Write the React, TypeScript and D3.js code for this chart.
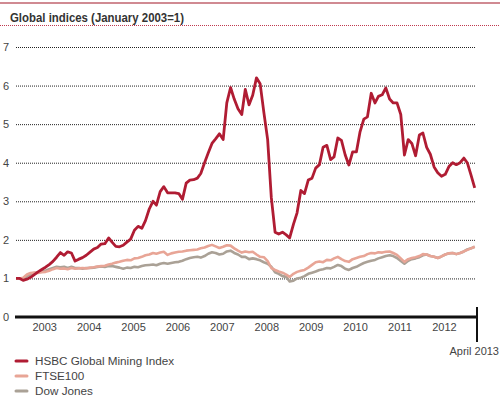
import * as d3 from "d3";
import React from "react";

// monthly values, Jan 2003 onwards (index 0 = Jan 2003)
const hsbcMining = [
  1.0, 1.0, 0.95, 0.98, 1.03, 1.1, 1.17, 1.23, 1.29, 1.36, 1.44, 1.55,
  1.67, 1.6, 1.69, 1.66, 1.45, 1.5, 1.54, 1.6, 1.68, 1.76, 1.8, 1.89,
  1.9, 2.05, 1.94, 1.83, 1.82, 1.86, 1.94, 2.02, 2.25, 2.35, 2.3, 2.5,
  2.8, 3.0, 2.9, 3.25, 3.38, 3.22, 3.22, 3.22, 3.2, 3.05, 3.47, 3.55,
  3.56, 3.6, 3.72, 4.0, 4.25, 4.5, 4.62, 4.75, 4.6, 5.55, 5.95, 5.65,
  5.4, 5.25, 5.9, 5.5, 5.75, 6.2, 6.05, 5.3, 4.6, 3.1, 2.2, 2.15,
  2.2, 2.13, 2.05, 2.4, 2.7, 3.28, 3.2, 3.55, 3.6, 3.86, 3.95, 4.4,
  4.45, 4.08, 4.15, 4.64, 4.58, 4.2, 3.94, 4.28, 4.28, 4.8, 5.13, 5.19,
  5.8, 5.55, 5.72, 5.76, 5.94, 5.65, 5.55, 5.55, 5.25, 4.2, 4.6, 4.5,
  4.18, 4.72, 4.77, 4.4, 4.22, 3.89, 3.74, 3.65, 3.7, 3.9, 4.0, 3.95,
  4.0, 4.12, 4.0, 3.68, 3.35,
];

const ftse100 = [
  1.0, 1.0, 1.02, 1.1, 1.14, 1.15, 1.14, 1.16, 1.17, 1.2, 1.24, 1.27,
  1.25, 1.26, 1.24, 1.27, 1.25, 1.26, 1.27, 1.26, 1.28, 1.29, 1.31, 1.32,
  1.33, 1.36, 1.38, 1.41, 1.43, 1.46, 1.48, 1.47, 1.52, 1.53, 1.56, 1.6,
  1.62, 1.66, 1.64, 1.67, 1.69, 1.61, 1.65, 1.67, 1.69, 1.7, 1.72, 1.73,
  1.74, 1.75, 1.78, 1.8, 1.84, 1.87, 1.83, 1.79, 1.82, 1.86, 1.85, 1.78,
  1.72, 1.67, 1.7, 1.68, 1.69, 1.62, 1.56, 1.55, 1.45, 1.27, 1.22, 1.18,
  1.15, 1.1, 1.04, 1.12, 1.17, 1.2, 1.22, 1.28, 1.35, 1.42, 1.44, 1.42,
  1.48, 1.47, 1.52, 1.56, 1.5, 1.45, 1.43, 1.5, 1.53, 1.56, 1.58, 1.63,
  1.66, 1.65, 1.68, 1.67, 1.69, 1.7, 1.66, 1.61, 1.52, 1.43, 1.5, 1.53,
  1.55, 1.58, 1.63, 1.62, 1.58, 1.56, 1.53, 1.57, 1.62, 1.65, 1.66, 1.63,
  1.66, 1.7, 1.74, 1.78, 1.82,
];

const dowJones = [
  1.0, 1.0, 0.98, 1.06, 1.1, 1.14, 1.16, 1.18, 1.2, 1.24, 1.27, 1.3,
  1.29, 1.3, 1.27, 1.3, 1.27, 1.27, 1.25, 1.27, 1.27, 1.28, 1.3, 1.31,
  1.3, 1.32, 1.32, 1.3, 1.28, 1.25, 1.28, 1.27, 1.3, 1.29, 1.32, 1.34,
  1.35, 1.36, 1.34, 1.38, 1.4, 1.38, 1.4, 1.42, 1.43, 1.46, 1.5, 1.53,
  1.55, 1.56, 1.54, 1.58, 1.64, 1.68, 1.66, 1.62, 1.64, 1.7, 1.72, 1.66,
  1.62, 1.56, 1.56, 1.5, 1.52, 1.5, 1.47, 1.42, 1.38, 1.3, 1.16, 1.12,
  1.06, 1.04, 0.92, 0.94, 1.0, 1.02, 1.06, 1.12, 1.15, 1.18, 1.22, 1.24,
  1.27, 1.26, 1.3, 1.35, 1.32, 1.25, 1.22, 1.27, 1.3, 1.35, 1.4, 1.43,
  1.46, 1.48, 1.52, 1.55, 1.58, 1.6, 1.58, 1.53, 1.45, 1.38, 1.46, 1.5,
  1.52, 1.55, 1.6, 1.62, 1.58, 1.56, 1.53, 1.57, 1.62, 1.65, 1.66, 1.63,
  1.66, 1.7, 1.75, 1.78, 1.82,
];

const years = [2003, 2004, 2005, 2006, 2007, 2008, 2009, 2010, 2011, 2012];
const yTicks = [0, 1, 2, 3, 4, 5, 6, 7];

const seriesNames = ["HSBC Global Mining Index", "FTSE100", "Dow Jones"];
const seriesColors = ["#b01c33", "#e8a596", "#aaa196"];

const W = 500;
const H = 398;
const font = "'Liberation Sans', Arial, Helvetica, sans-serif";

export default function App() {
  const x = d3
    .scaleTime()
    .domain([new Date(2003, 0, 1), new Date(2013, 4, 20)])
    .range([16, 477]);
  const y = d3.scaleLinear().domain([0, 7]).range([317, 47]);

  const line = d3
    .line<number>()
    .x((d, i) => x(new Date(2003, i, 1)))
    .y((d) => y(d));

  const drawOrder = [dowJones, ftse100, hsbcMining];
  const drawColors = [seriesColors[2], seriesColors[1], seriesColors[0]];

  return (
    <svg
      width={W}
      height={H}
      style={{ position: "absolute", left: 0, top: 0, background: "#fff" }}
      fontFamily={font}
    >
      {/* header */}
      <line x1={0} x2={W} y1={3} y2={3} stroke="#d08a92" strokeWidth={2} />
      <text
        x={10}
        y={22}
        fontSize={12.5}
        fontWeight="bold"
        fill="#333"
        textLength={174}
        lengthAdjust="spacingAndGlyphs"
      >
        Global indices (January 2003=1)
      </text>
      <line
        x1={0}
        x2={W}
        y1={25.5}
        y2={25.5}
        stroke="#c0394f"
        strokeWidth={1}
        strokeDasharray="1,1"
      />

      {/* grid + y labels */}
      {yTicks.map((t) => (
        <g key={t}>
          {t > 0 && (
            <line
              x1={16}
              x2={476}
              y1={y(t) + 0.5}
              y2={y(t) + 0.5}
              stroke="#222"
              strokeWidth={1}
              strokeDasharray="1,1"
            />
          )}
          <text x={3} y={y(t) + 4} fontSize={11} fill="#444">
            {t}
          </text>
        </g>
      ))}

      {/* series */}
      {drawOrder.map((s, i) => (
        <path
          key={i}
          d={line(s) ?? ""}
          fill="none"
          stroke={drawColors[i]}
          strokeWidth={i === 2 ? 2.8 : 2.6}
          strokeLinejoin="round"
        />
      ))}

      {/* x axis */}
      <line x1={15} x2={477} y1={y(0)} y2={y(0)} stroke="#111" strokeWidth={3} />
      <line
        x1={x(new Date(2013, 4, 20))}
        x2={x(new Date(2013, 4, 20))}
        y1={307}
        y2={342}
        stroke="#111"
        strokeWidth={2}
      />
      {years.map((yr) => (
        <text
          key={yr}
          x={x(new Date(yr, 7, 25))}
          y={331}
          fontSize={11}
          fill="#444"
          textAnchor="middle"
        >
          {yr}
        </text>
      ))}
      <text x={499} y={355} fontSize={11} fill="#444" textAnchor="end">
        April 2013
      </text>

      {/* legend */}
      {seriesNames.map((n, i) => (
        <g key={n}>
          <line
            x1={16}
            x2={27}
            y1={361 + i * 15}
            y2={361 + i * 15}
            stroke={seriesColors[i]}
            strokeWidth={3}
            strokeLinecap="round"
          />
          <text x={35} y={365 + i * 15} fontSize={11.7} fill="#444">
            {n}
          </text>
        </g>
      ))}
    </svg>
  );
}
